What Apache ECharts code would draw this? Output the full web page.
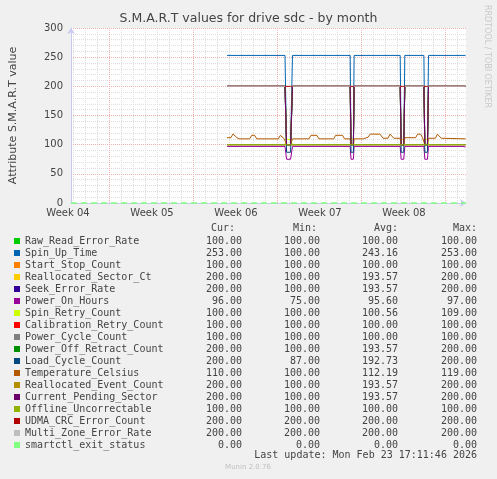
<!DOCTYPE html>
<html><head><meta charset="utf-8">
<script src="https://cdn.jsdelivr.net/npm/echarts@6/dist/echarts.min.js"></script>
<style>html,body{margin:0;padding:0;background:#f0f0f0}#c{width:497px;height:479px}</style>
</head><body><div id="c"></div>
<script>
// ---- data (x in days from the left edge of the plot) ----
const weekLabels = ['Week 04', 'Week 05', 'Week 06', 'Week 07', 'Week 08'];
const seriesNames = ['Raw_Read_Error_Rate','Spin_Up_Time','Start_Stop_Count','Reallocated_Sector_Ct','Seek_Error_Rate','Power_On_Hours','Spin_Retry_Count','Calibration_Retry_Count','Power_Cycle_Count','Power_Off_Retract_Count','Load_Cycle_Count','Temperature_Celsius','Reallocated_Event_Count','Current_Pending_Sector','Offline_Uncorrectable','UDMA_CRC_Error_Count','Multi_Zone_Error_Rate','smartctl_exit_status'];
const seriesColors = ['#00cc00','#0066b3','#ff8000','#ffcc00','#330099','#990099','#ccff00','#ff0000','#808080','#008f00','#00487d','#b35a00','#b38f00','#6b006b','#8fb300','#b30000','#bebebe','#80ff80'];
const curVals = [100,253,100,200,200,96,100,100,100,200,200,110,200,200,100,200,200,0];
const minVals = [100,100,100,100,100,75,100,100,100,100,87,100,100,100,100,200,200,0];
const avgVals = [100,243.16,100,193.57,193.57,95.60,100.56,100,100,193.57,192.73,112.19,193.57,193.57,100,200,200,0];
const maxVals = [100,253,100,200,200,97,109,100,100,200,200,119,200,200,100,200,200,0];

const times = [13.17,18.06,18.19,18.53,18.69,23.56,23.63,23.83,23.89,27.78,27.86,28.08,28.17,29.78,29.86,30.08,30.17,33.08,33.1,33.3];
const rawReadErrorRate     = [100,100,100,100,100,100,100,100,100,100,100,100,100,100,100,100,100,100,100,100];
const spinUpTime           = [253,253,100,100,253,253,100,100,253,253,100,100,253,253,100,100,253,253,253,253];
const startStopCount       = [100,100,100,100,100,100,100,100,100,100,100,100,100,100,100,100,100,100,100,100];
const reallocatedSectorCt  = [200,200,100,100,200,200,100,100,200,200,100,100,200,200,100,100,200,200,200,200];
const seekErrorRate        = [200,200,100,100,200,200,100,100,200,200,100,100,200,200,100,100,200,200,200,200];
const powerOnHours         = [97,97,75,75,97,97,75,75,97,97,75,75,97,97,75,75,97,97,96,96];
const spinRetryCount       = [100,100,109,109,100,100,109,109,100,100,109,109,100,100,109,109,100,100,100,100];
const calibrationRetry     = [100,100,100,100,100,100,100,100,100,100,100,100,100,100,100,100,100,100,100,100];
const powerCycleCount      = [100,100,100,100,100,100,100,100,100,100,100,100,100,100,100,100,100,100,100,100];
const powerOffRetract      = [200,200,100,100,200,200,100,100,200,200,100,100,200,200,100,100,200,200,200,200];
const loadCycleCount       = [200,200,87,87,200,200,87,87,200,200,87,87,200,200,87,87,200,200,200,200];
const reallocatedEvent     = [200,200,100,100,200,200,100,100,200,200,100,100,200,200,100,100,200,200,200,200];
const currentPending       = [200,200,100,100,200,200,100,100,200,200,100,100,200,200,100,100,200,200,200,200];
const offlineUncorrectable = [100,100,100,100,100,100,100,100,100,100,100,100,100,100,100,100,100,100,100,100];
const udmaCrcErrorCount    = [200,200,200,200,200,200,200,200,200,200,200,200,200,200,200,200,200,200,200,200];
const multiZoneErrorRate   = [200,200,null,null,200,200,null,null,200,200,null,null,200,200,null,null,200,200,200,200];

const tempTimes = [13.17,13.33,13.5,13.67,13.83,14.0,14.17,15.08,15.25,15.5,15.67,17.5,17.67,17.83,18.0,18.06,18.19,18.53,18.69,18.75,20.08,20.25,20.75,20.92,22.17,22.33,22.92,23.08,23.56,23.63,23.83,23.89,24.67,24.83,25.08,25.25,26.08,26.33,26.75,26.92,27.08,27.25,27.78,27.86,28.08,28.17,29.08,29.25,29.5,29.67,29.78,29.86,30.08,30.17,30.75,30.92,31.08,31.25,33.3];
const temperatureCelsius = [112,111,112,118.5,116,112,110,110,116,116,110,110,116,116,110,110,100,100,110,110,110,116,116,110,110,116,116,110,110,100,100,110,110,113,113,118,118,111,111,118,118,111,111,100,100,112,112,118,118,112,112,100,100,111,111,118,118,111,110];

const smartctlTimes = [0, 33.33];
const smartctlExitStatus = [0, 0];

const seriesSources = [
  [times, rawReadErrorRate],[times, spinUpTime],[times, startStopCount],[times, reallocatedSectorCt],
  [times, seekErrorRate],[times, powerOnHours],[times, spinRetryCount],[times, calibrationRetry],
  [times, powerCycleCount],[times, powerOffRetract],[times, loadCycleCount],[tempTimes, temperatureCelsius],
  [times, reallocatedEvent],[times, currentPending],[times, offlineUncorrectable],[times, udmaCrcErrorCount],
  [times, multiZoneErrorRate],[smartctlTimes, smartctlExitStatus]
];

// ---- chart ----
const SANS = 'DejaVu Sans', MONO = 'DejaVu Sans Mono';
const TXT = '#444';
const AXIS = '#c8c8f0';
const MINOR = '#dedede';
const MAJOR = '#f0b0b0';
const plot = {left: 66, top: 28, width: 400, height: 175};

const series = seriesSources.map((src, i) => ({
  name: seriesNames[i], type: 'line', xAxisIndex: 0, yAxisIndex: 0,
  data: src[0].map((t, k) => [t, src[1][k]]),
  showSymbol: false, symbol: 'none', connectNulls: false, animation: false, z: 3,
  clip: i !== 17,
  color: seriesColors[i],
  lineStyle: {width: i === 17 ? 1.5 : 1, color: seriesColors[i], type: i === 17 ? [6, 4] : 'solid'},
  emphasis: {disabled: true}
}));

const fmt = v => v.toFixed(2);
const chart = echarts.init(document.getElementById('c'), null, {renderer: 'canvas'});
chart.setOption({
  backgroundColor: '#f0f0f0',
  animation: false,
  title: {
    text: 'S.M.A.R.T values for drive sdc - by month', left: 'center', top: 12, padding: 0,
    textStyle: {fontFamily: SANS, fontSize: 12.5, fontWeight: 'normal', color: TXT}
  },
  grid: [
    {left: plot.left, top: plot.top, width: plot.width, height: plot.height, show: true, backgroundColor: '#ffffff', borderWidth: 0, z: 0},
    {left: plot.left + 7.33, top: plot.top, width: 32 * 12, height: plot.height, show: false},
    {left: plot.left + 43.33, top: plot.top, width: 28 * 12, height: plot.height, show: false},
    {left: plot.left + 2, top: plot.top, width: 28 * 12, height: plot.height, show: false}
  ],
  xAxis: [
    {gridIndex: 0, type: 'value', min: 0, max: 400 / 12, z: 2,
     axisLine: {show: true, lineStyle: {color: AXIS, width: 1}, symbol: ['none', 'arrow'], symbolSize: [6, 6]},
     axisTick: {show: false}, axisLabel: {show: false}, splitLine: {show: false}},
    {gridIndex: 1, type: 'value', min: 0, max: 32, interval: 1, z: 1,
     axisLine: {show: false}, axisTick: {show: false}, axisLabel: {show: false},
     splitLine: {show: true, lineStyle: {color: MINOR, width: 1, type: [1, 1]}}},
    {gridIndex: 2, type: 'value', min: 0, max: 28, interval: 7, z: 1.5,
     axisLine: {show: false}, axisTick: {show: false}, axisLabel: {show: false},
     splitLine: {show: true, lineStyle: {color: MAJOR, width: 1, type: [1, 1]}}},
    {gridIndex: 3, type: 'value', min: 0, max: 28, interval: 7, z: 2,
     axisLine: {show: false}, axisTick: {show: false}, splitLine: {show: false},
     axisLabel: {show: true, margin: 5, fontFamily: SANS, fontSize: 10, color: TXT,
       formatter: v => (v % 7 === 0 ? weekLabels[v / 7] : '')}}
  ],
  yAxis: [
    {gridIndex: 0, type: 'value', min: 0, max: 300, interval: 50, z: 1.5,
     name: 'Attribute S.M.A.R.T value', nameLocation: 'middle', nameGap: 52,
     nameTextStyle: {fontFamily: SANS, fontSize: 11, color: TXT},
     axisLine: {show: true, lineStyle: {color: AXIS, width: 1}, symbol: ['none', 'arrow'], symbolSize: [6, 6]},
     axisTick: {show: false},
     axisLabel: {margin: 8, fontFamily: SANS, fontSize: 10, color: TXT},
     splitLine: {show: true, lineStyle: {color: MAJOR, width: 1, type: [1, 1]}}},
    {gridIndex: 0, type: 'value', min: 0, max: 300, interval: 10, z: 1, position: 'left',
     axisLine: {show: false}, axisTick: {show: false}, axisLabel: {show: false},
     splitLine: {show: true, lineStyle: {color: MINOR, width: 1, type: [1, 1]}}},
    {gridIndex: 1, type: 'value', min: 0, max: 1, show: false},
    {gridIndex: 2, type: 'value', min: 0, max: 1, show: false},
    {gridIndex: 3, type: 'value', min: 0, max: 1, show: false}
  ],
  legend: {
    type: 'plain', orient: 'vertical', left: 14, top: 235, padding: 0, itemGap: 0,
    itemWidth: 6, itemHeight: 6, icon: 'rect', selectedMode: false,
    data: seriesNames.map((n, i) => ({name: n, itemStyle: {color: seriesColors[i]}, lineStyle: {type: 'solid'}})),
    textStyle: {fontFamily: MONO, fontSize: 10, color: TXT, lineHeight: 12,
      rich: {
        n:  {fontFamily: MONO, fontSize: 10, color: TXT, lineHeight: 12, width: 167},
        c:  {fontFamily: MONO, fontSize: 10, color: TXT, lineHeight: 12, width: 50, align: 'right'},
        mi: {fontFamily: MONO, fontSize: 10, color: TXT, lineHeight: 12, width: 78, align: 'right'},
        a:  {fontFamily: MONO, fontSize: 10, color: TXT, lineHeight: 12, width: 78, align: 'right'},
        mx: {fontFamily: MONO, fontSize: 10, color: TXT, lineHeight: 12, width: 79, align: 'right'}
      }},
    formatter: name => {
      const i = seriesNames.indexOf(name);
      return '{n|' + name + '}{c|' + fmt(curVals[i]) + '}{mi|' + fmt(minVals[i]) + '}{a|' + fmt(avgVals[i]) + '}{mx|' + fmt(maxVals[i]) + '}';
    }
  },
  graphic: [
    {type: 'text', x: 235, y: 228, style: {text: 'Cur:', fill: TXT, font: '10px "DejaVu Sans Mono"', align: 'right', verticalAlign: 'middle'}},
    {type: 'text', x: 317, y: 228, style: {text: 'Min:', fill: TXT, font: '10px "DejaVu Sans Mono"', align: 'right', verticalAlign: 'middle'}},
    {type: 'text', x: 398, y: 228, style: {text: 'Avg:', fill: TXT, font: '10px "DejaVu Sans Mono"', align: 'right', verticalAlign: 'middle'}},
    {type: 'text', x: 477, y: 228, style: {text: 'Max:', fill: TXT, font: '10px "DejaVu Sans Mono"', align: 'right', verticalAlign: 'middle'}},
    {type: 'text', x: 477, y: 455, style: {text: 'Last update: Mon Feb 23 17:11:46 2026', fill: TXT, font: '10px "DejaVu Sans Mono"', align: 'right', verticalAlign: 'middle'}},
    {type: 'text', x: 248, y: 467, style: {text: 'Munin 2.0.76', fill: '#c0c0c0', font: '7px "DejaVu Sans"', align: 'center', verticalAlign: 'middle'}},
    {type: 'text', x: 487, y: 5, rotation: -Math.PI / 2, style: {text: 'RRDTOOL / TOBI OETIKER', fill: '#c8c8c8', font: '8px "DejaVu Sans"', align: 'left', verticalAlign: 'middle'}}
  ],
  series: series
});
</script></body></html>
